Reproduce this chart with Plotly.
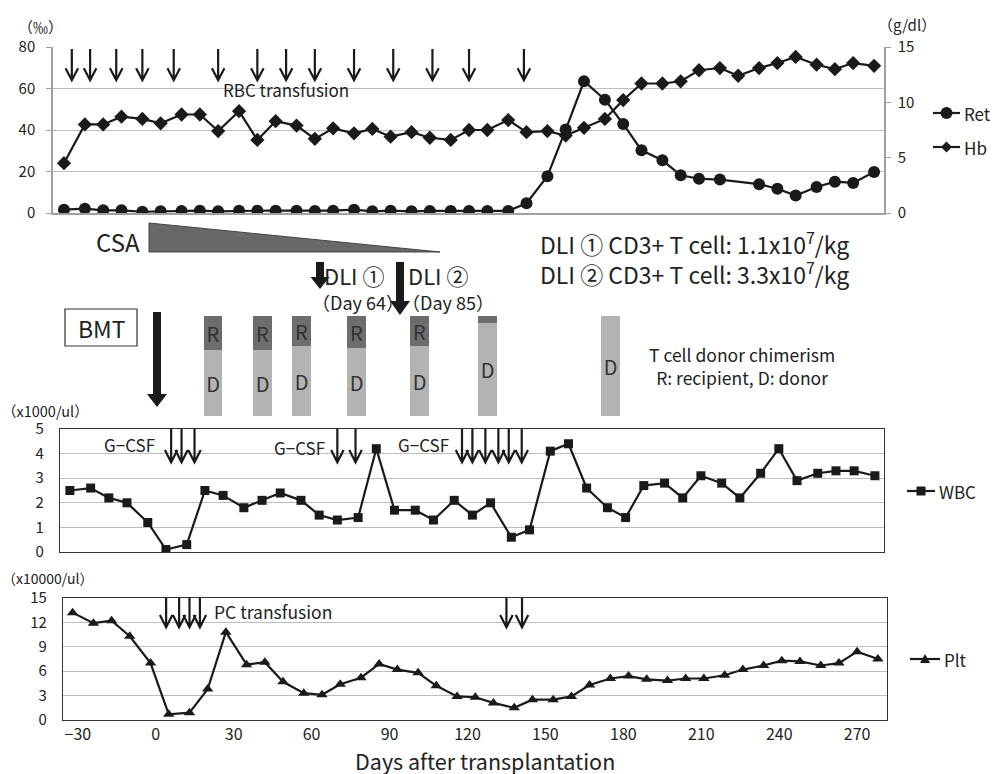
import plotly.graph_objects as go

W, H = 995, 774


def PX(px):
    return px / W


def PY(py):
    return 1 - py / H


# ---------------- data ----------------
days = [-32, -24, -17, -10, -2, 5, 13, 20, 27, 35, 42, 49, 57, 64, 71, 79, 86, 93, 101, 108,
        116, 123, 130, 138, 145, 153, 160, 167, 175, 182, 189, 197, 204, 211, 219, 226, 234,
        241, 248, 256, 263, 270, 278]

ret = [1.6, 2.1, 1.3, 1.3, 0.6, 0.8, 1.0, 1.1, 0.8, 1.1, 1.1, 1.1, 1.1, 1.0, 1.1, 1.6, 0.8,
       1.1, 0.8, 1.0, 1.0, 1.0, 1.0, 1.0, 4.7, 17.7, 40.2, 63.5, 54.6, 42.9, 30.2, 25.4, 18.2,
       16.5, 16.1, None, 13.9, 11.7, 8.4, 12.5, 15.1, 14.5, 19.8]

hb = [4.5, 8.0, 8.0, 8.7, 8.5, 8.1, 8.9, 8.9, 7.4, 9.2, 6.6, 8.3, 7.9, 6.7, 7.65, 7.2, 7.6,
      6.9, 7.3, 6.8, 6.6, 7.5, 7.5, 8.4, 7.3, 7.4, 7.0, 7.7, 8.5, 10.2, 11.7, 11.7, 11.9, 12.9,
      13.1, 12.4, 13.1, 13.55, 14.1, 13.4, 13.0, 13.55, 13.3]

wbc = [2.5, 2.6, 2.2, 2.0, 1.2, 0.1, 0.3, 2.5, 2.3, 1.8, 2.1, 2.4, 2.1, 1.5, 1.3, 1.4, 4.2,
       1.7, 1.7, 1.3, 2.1, 1.5, 2.0, 0.6, 0.9, 4.1, 4.4, 2.6, 1.8, 1.4, 2.7, 2.8, 2.2, 3.1,
       2.8, 2.2, 3.2, 4.2, 2.9, 3.2, 3.3, 3.3, 3.1]

plt_vals = [13.2, 11.9, 12.2, 10.3, 7.0, 0.7, 0.9, 3.8, 10.8, 6.8, 7.1, 4.7, 3.3, 3.1, 4.4,
            5.2, 6.9, 6.2, 5.8, 4.2, 2.9, 2.8, 2.1, 1.5, 2.5, 2.5, 2.9, 4.3, 5.1, 5.4, 5.0,
            4.85, 5.1, 5.1, 5.5, 6.2, 6.7, 7.3, 7.2, 6.7, 7.0, 8.4, 7.5]

rbc_days = [-29, -22, -12, -2, 10, 27, 42, 53, 64, 79, 94, 109, 123, 144]
gcsf_days = [7, 11, 16, 71, 78, 119, 123, 128, 133, 137, 142]
pc_days = [4, 9, 13, 17, 135, 141]

chim_days = [25, 44, 59, 80, 104, 130, 177]
chim_recipient = [34, 34, 30, 32, 30, 7, 0]

x_ticks = [-30, 0, 30, 60, 90, 120, 150, 180, 210, 240, 270]
# ---------------------------------------

FONT = "Noto Sans CJK JP"
INK = "#1a1a1a"
TXT = "#222222"
GRID = "#bdbdbd"

fig = go.Figure()

line_style = dict(color=INK, width=2.2)

fig.add_trace(go.Scatter(x=days, y=ret, name="Ret", mode="lines+markers", xaxis="x", yaxis="y",
                         line=line_style, connectgaps=True,
                         marker=dict(symbol="circle", size=12, color=INK)))
fig.add_trace(go.Scatter(x=days, y=hb, name="Hb", mode="lines+markers", xaxis="x", yaxis="y2",
                         line=line_style,
                         marker=dict(symbol="diamond", size=11, color=INK)))
fig.add_trace(go.Scatter(x=days, y=wbc, name="WBC", mode="lines+markers", xaxis="x2", yaxis="y3",
                         line=line_style,
                         marker=dict(symbol="square", size=9, color=INK)))
fig.add_trace(go.Scatter(x=days, y=plt_vals, name="Plt", mode="lines+markers", xaxis="x3",
                         yaxis="y4", line=line_style,
                         marker=dict(symbol="triangle-up", size=10, color=INK)))

# chimerism bars (donor bottom, recipient top)
chim_donor = [100 - r for r in chim_recipient]
bar_w = 7.2
fig.add_trace(go.Bar(x=chim_days, y=chim_donor, width=bar_w, xaxis="x4", yaxis="y5",
                     name="D", marker=dict(color="#b3b3b3", line=dict(width=0)),
                     text=["D"] * len(chim_days), textposition="inside",
                     insidetextanchor="middle", constraintext="none", textangle=0,
                     textfont=dict(size=20, color="#333333", family=FONT), hoverinfo="skip"))
fig.add_trace(go.Bar(x=chim_days, y=chim_recipient, width=bar_w, xaxis="x4", yaxis="y5",
                     name="R", marker=dict(color="#6d6d6d", line=dict(width=0)),
                     text=["R"] * len(chim_days),
                     textposition=["inside" if r >= 20 else "none" for r in chim_recipient],
                     insidetextanchor="middle", constraintext="none", textangle=0,
                     textfont=dict(size=20, color="#333333", family=FONT), hoverinfo="skip"))

shapes = []


def thin_arrow(x, ytop, ybot, dx, dy, xref, yref):
    path = (f"M {x},{ytop} L {x},{ybot} M {x - dx},{ybot + dy} L {x},{ybot} "
            f"L {x + dx},{ybot + dy}")
    return dict(type="path", path=path, xref=xref, yref=yref,
                line=dict(color=INK, width=2.2))


for d in rbc_days:
    shapes.append(thin_arrow(d, 79, 64, 2.4, 5.8, "x", "y"))
for d in gcsf_days:
    shapes.append(thin_arrow(d, 5.0, 3.65, 2.4, 0.5, "x2", "y3"))
for d in pc_days:
    shapes.append(thin_arrow(d, 15.0, 11.4, 2.4, 1.5, "x3", "y4"))


def poly(pts, fill, lc=None, lw=0):
    path = "M " + " L ".join(f"{PX(a):.5f},{PY(b):.5f}" for a, b in pts) + " Z"
    return dict(type="path", path=path, xref="paper", yref="paper",
                fillcolor=fill, line=dict(color=lc or fill, width=lw))


def thick_arrow(cx, ytop, ybot, sw, hw, hh):
    pts = [(cx - sw / 2, ytop), (cx + sw / 2, ytop), (cx + sw / 2, ybot - hh),
           (cx + hw / 2, ybot - hh), (cx, ybot), (cx - hw / 2, ybot - hh),
           (cx - sw / 2, ybot - hh)]
    return poly(pts, INK)


shapes.append(thick_arrow(157, 312, 407, 8, 20, 13))
shapes.append(thick_arrow(320, 262, 289, 8, 19, 12))
shapes.append(thick_arrow(400, 262, 315, 8, 20, 14))

# CSA tapering triangle
shapes.append(poly([(149, 223), (149, 252), (440, 252)], "#686868", "#444444", 1))
# BMT box
shapes.append(dict(type="rect", xref="paper", yref="paper", x0=PX(65), x1=PX(137),
                   y0=PY(346), y1=PY(309), line=dict(color="#333333", width=1.2)))

ann = []


def text(t, px, py, size, xanchor="left", color=TXT):
    ann.append(dict(text=t, x=PX(px), y=PY(py), xref="paper", yref="paper",
                    xanchor=xanchor, yanchor="middle", showarrow=False,
                    font=dict(size=size, color=color, family=FONT)))


# manual legends (line + marker + label)
def legend_item(x0, x1, y, symbol, label, size):
    shapes.append(dict(type="line", xref="paper", yref="paper", x0=PX(x0), x1=PX(x1),
                       y0=PY(y), y1=PY(y), line=dict(color=INK, width=2.2)))
    cx = (x0 + x1) / 2
    r = size / 2
    if symbol == "circle":
        shapes.append(dict(type="circle", xref="paper", yref="paper", x0=PX(cx - r),
                           x1=PX(cx + r), y0=PY(y + r), y1=PY(y - r), fillcolor=INK,
                           line=dict(color=INK, width=0)))
    elif symbol == "square":
        shapes.append(poly([(cx - r, y - r), (cx + r, y - r), (cx + r, y + r), (cx - r, y + r)],
                           INK))
    elif symbol == "diamond":
        shapes.append(poly([(cx, y - r), (cx + r, y), (cx, y + r), (cx - r, y)], INK))
    elif symbol == "triangle":
        shapes.append(poly([(cx, y - r), (cx + r, y + r * 0.8), (cx - r, y + r * 0.8)], INK))
    text(label, x1 + 2, y, 17)


legend_item(933, 960, 113, "circle", "Ret", 12)
legend_item(933, 960, 147, "diamond", "Hb", 11)
legend_item(907, 935, 491, "square", "WBC", 9)
legend_item(910, 940, 659, "triangle", "Plt", 10)

text("（‰）", 16, 27, 15)
text("（g/dl）", 876, 25, 15)
text("（x1000/ul）", 0, 410, 14.5)
text("（x10000/ul）", 0, 578, 14)
text("RBC transfusion", 221, 90, 17)
text("G−CSF", 102, 445, 17)
text("G−CSF", 272, 448, 17)
text("G−CSF", 396, 445, 17)
text("PC transfusion", 212, 611, 17.5)
text("CSA", 94, 241, 24)
text("DLI ①", 322, 275, 22)
text("（Day 64）", 310, 302, 18)
text("DLI ②", 406, 275, 22)
text("（Day 85）", 400, 302, 18)
text("DLI ① CD3+ T cell: 1.1x10<sup>7</sup>/kg", 538, 243, 23)
text("DLI ② CD3+ T cell: 3.3x10<sup>7</sup>/kg", 538, 273, 23)
text("BMT", 102, 328, 23, xanchor="center")
text("T cell donor chimerism<br>R: recipient, D: donor", 742, 366, 17.5, xanchor="center")
text("Days after transplantation", 485, 760, 21.5, xanchor="center")

tickfont = dict(size=15, color=TXT, family=FONT)

fig.update_layout(
    width=W, height=H,
    margin=dict(l=0, r=0, t=0, b=0, autoexpand=False),
    paper_bgcolor="white", plot_bgcolor="rgba(0,0,0,0)",
    font=dict(family=FONT, color=TXT),
    barmode="stack", bargap=0,
    shapes=shapes, annotations=ann,
    showlegend=False,
    xaxis=dict(domain=[PX(53), PX(884)], range=[-36.2, 281.8], anchor="y",
               showline=True, linecolor="#a0a0a0", linewidth=1.5, showgrid=False,
               zeroline=False, showticklabels=False, ticks=""),
    yaxis=dict(domain=[PY(213), PY(47)], range=[0, 80], dtick=20, anchor="x",
               showline=True, linecolor="#a0a0a0", linewidth=1.5, gridcolor=GRID,
               gridwidth=1.3, zeroline=False, ticks="outside", ticklen=5,
               tickcolor="#a0a0a0", tickfont=tickfont, ticklabelstandoff=8),
    yaxis2=dict(overlaying="y", side="right", range=[0, 15], dtick=5, anchor="x",
                showline=True, linecolor="#a0a0a0", linewidth=1.5, showgrid=False,
                zeroline=False, ticks="outside", ticklen=5, tickcolor="#a0a0a0",
                tickfont=tickfont, ticklabelstandoff=4),
    xaxis2=dict(domain=[PX(60), PX(884)], range=[-35.8, 281.5], anchor="y3",
                showline=True, mirror=True, linecolor="#333333", linewidth=1.3,
                showgrid=False, zeroline=False, showticklabels=False, ticks=""),
    yaxis3=dict(domain=[PY(552), PY(429)], range=[0, 5], dtick=1, anchor="x2",
                showline=True, mirror=True, linecolor="#333333", linewidth=1.3,
                gridcolor=GRID, gridwidth=1.3, zeroline=False, ticks="",
                tickfont=tickfont, ticklabelstandoff=12),
    xaxis3=dict(domain=[PX(63), PX(887)], range=[-35.7, 281.5], anchor="y4",
                showline=True, mirror=True, linecolor="#333333", linewidth=1.3,
                showgrid=False, zeroline=False, tickvals=x_ticks, ticks="",
                tickfont=dict(size=16, color=TXT, family=FONT), ticklabelstandoff=0),
    yaxis4=dict(domain=[PY(720), PY(598)], range=[0, 15], dtick=3, anchor="x3",
                showline=True, mirror=True, linecolor="#333333", linewidth=1.3,
                gridcolor=GRID, gridwidth=1.3, zeroline=False, ticks="",
                tickfont=tickfont, ticklabelstandoff=12),
    xaxis4=dict(domain=[PX(53), PX(884)], range=[-36.2, 281.8], anchor="y5", visible=False),
    yaxis5=dict(domain=[PY(416), PY(316)], range=[0, 100], anchor="x4", visible=False),
)

fig.write_html("out.html", config={"displayModeBar": False},
               post_script="document.body.style.margin='0';"
                           "document.body.style.overflow='hidden';")
